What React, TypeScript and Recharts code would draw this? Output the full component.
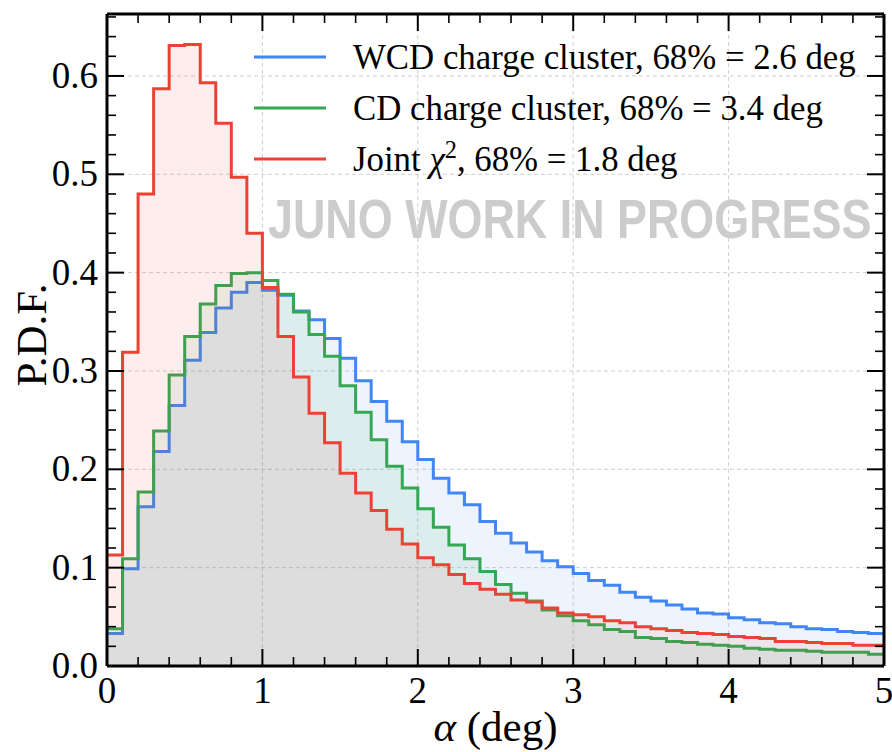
import React from 'react';
import { ComposedChart, Area, XAxis, YAxis, CartesianGrid, Legend, Customized } from 'recharts';

// bin left edges (deg), plus the closing edge at 5.0
const binEdges = [
  0.0, 0.1, 0.2, 0.3, 0.4, 0.5, 0.6, 0.7, 0.8, 0.9,
  1.0, 1.1, 1.2, 1.3, 1.4, 1.5, 1.6, 1.7, 1.8, 1.9,
  2.0, 2.1, 2.2, 2.3, 2.4, 2.5, 2.6, 2.7, 2.8, 2.9,
  3.0, 3.1, 3.2, 3.3, 3.4, 3.5, 3.6, 3.7, 3.8, 3.9,
  4.0, 4.1, 4.2, 4.3, 4.4, 4.5, 4.6, 4.7, 4.8, 4.9, 5.0,
];

const wcdPdf = [
  0.033, 0.099, 0.162, 0.218, 0.265, 0.311, 0.339, 0.364, 0.380, 0.390,
  0.382, 0.377, 0.361, 0.352, 0.333, 0.313, 0.290, 0.269, 0.249, 0.228,
  0.210, 0.191, 0.176, 0.164, 0.147, 0.135, 0.125, 0.116, 0.107, 0.101,
  0.094, 0.087, 0.082, 0.075, 0.070, 0.066, 0.062, 0.058, 0.054, 0.053,
  0.049, 0.047, 0.044, 0.043, 0.040, 0.038, 0.037, 0.035, 0.034, 0.033,
];

const cdPdf = [
  0.038, 0.109, 0.177, 0.239, 0.296, 0.335, 0.368, 0.387, 0.399, 0.400,
  0.392, 0.378, 0.360, 0.337, 0.315, 0.285, 0.258, 0.230, 0.203, 0.181,
  0.160, 0.141, 0.123, 0.109, 0.096, 0.083, 0.074, 0.066, 0.057, 0.051,
  0.046, 0.042, 0.037, 0.035, 0.029, 0.028, 0.025, 0.024, 0.022, 0.021,
  0.020, 0.018, 0.017, 0.016, 0.016, 0.015, 0.014, 0.014, 0.014, 0.012,
];

const jointPdf = [
  0.113, 0.319, 0.480, 0.587, 0.631, 0.632, 0.593, 0.552, 0.497, 0.440,
  0.385, 0.335, 0.294, 0.257, 0.227, 0.196, 0.176, 0.158, 0.139, 0.124,
  0.110, 0.103, 0.093, 0.084, 0.078, 0.073, 0.067, 0.065, 0.059, 0.054,
  0.052, 0.050, 0.046, 0.044, 0.040, 0.038, 0.036, 0.034, 0.033, 0.032,
  0.030, 0.029, 0.028, 0.025, 0.025, 0.024, 0.023, 0.023, 0.021, 0.021,
];

const seriesKeys = ['wcd', 'cd', 'joint'];
const seriesLabels = ['WCD charge cluster', 'CD charge cluster', 'Joint'];
const seriesC68 = ['2.6', '3.4', '1.8'];
const seriesColors = ['#4285F4', '#34A853', '#EA4335'];

const xTicks = [0, 0.2, 0.4, 0.6, 0.8, 1, 1.2, 1.4, 1.6, 1.8, 2, 2.2, 2.4, 2.6, 2.8, 3, 3.2, 3.4, 3.6, 3.8, 4, 4.2, 4.4, 4.6, 4.8, 5];
const yTicks = [0, 0.02, 0.04, 0.06, 0.08, 0.1, 0.12, 0.14, 0.16, 0.18, 0.2, 0.22, 0.24, 0.26, 0.28, 0.3, 0.32, 0.34, 0.36, 0.38, 0.4, 0.42, 0.44, 0.46, 0.48, 0.5, 0.52, 0.54, 0.56, 0.58, 0.6, 0.62, 0.64, 0.66];
const xGrid = [1, 2, 3, 4];
const yGrid = [0.1, 0.2, 0.3, 0.4, 0.5, 0.6];
const yMax = 0.663;

const data = binEdges.map((x, i) => {
  const j = Math.min(i, wcdPdf.length - 1);
  return { x, wcd: wcdPdf[j], cd: cdPdf[j], joint: jointPdf[j] };
});

const SERIF = '"Liberation Serif", "Times New Roman", serif';
const SANS = '"Liberation Sans", Arial, sans-serif';
const MAJOR = 17;
const MINOR = 9;

const isMajorX = (v: number) => Math.abs(v - Math.round(v)) < 1e-6;
const isMajorY = (v: number) => Math.abs(v * 10 - Math.round(v * 10)) < 1e-6;

const BottomTick = (p: any) => {
  const { x, y, payload } = p;
  const v = payload.value;
  const major = isMajorX(v);
  return (
    <g>
      <line x1={x} y1={y} x2={x} y2={y - (major ? MAJOR : MINOR)} stroke="#000" strokeWidth={major ? 2 : 1.6} />
      {major && (
        <text x={x} y={y + 37} textAnchor="middle" fontFamily={SERIF} fontSize={37} fill="#000">
          {Math.round(v)}
        </text>
      )}
    </g>
  );
};

const TopTick = (p: any) => {
  const { x, y, payload } = p;
  const major = isMajorX(payload.value);
  return <line x1={x} y1={y} x2={x} y2={y + (major ? MAJOR : MINOR)} stroke="#000" strokeWidth={major ? 2 : 1.6} />;
};

const LeftTick = (p: any) => {
  const { x, y, payload } = p;
  const v = payload.value;
  const major = isMajorY(v);
  return (
    <g>
      <line x1={x} y1={y} x2={x + (major ? MAJOR : MINOR)} y2={y} stroke="#000" strokeWidth={major ? 2 : 1.6} />
      {major && (
        <text x={x - 9} y={y + 12} textAnchor="end" fontFamily={SERIF} fontSize={37} fill="#000">
          {v.toFixed(1)}
        </text>
      )}
    </g>
  );
};

const RightTick = (p: any) => {
  const { x, y, payload } = p;
  const major = isMajorY(payload.value);
  return <line x1={x} y1={y} x2={x - (major ? MAJOR : MINOR)} y2={y} stroke="#000" strokeWidth={major ? 2 : 1.6} />;
};

const YTitle = (p: any) => {
  const vb = p.viewBox || { x: 0, y: 14, width: 107, height: 652 };
  const cx = vb.x + 46;
  const cy = vb.y + vb.height / 2 - 5;
  return (
    <text x={cx} y={cy} transform={`rotate(-90 ${cx} ${cy})`} textAnchor="middle" fontFamily={SERIF} fontSize={43} fill="#000">
      P.D.F.
    </text>
  );
};

const XTitle = (p: any) => {
  const vb = p.viewBox || { x: 107, y: 666, width: 777, height: 86 };
  const cx = vb.x + vb.width / 2;
  return (
    <text x={cx} y={vb.y + 75} textAnchor="middle" fontFamily={SERIF} fontSize={43} fill="#000">
      <tspan fontStyle="italic">α</tspan>
      <tspan> (deg)</tspan>
    </text>
  );
};

const LegendContent = () => (
  <div>
    {seriesKeys.map((k, i) => (
      <div key={k} style={{ display: 'flex', alignItems: 'center', height: 51 }}>
        <svg width={72} height={6} style={{ display: 'block' }}>
          <line x1={0} y1={3} x2={72} y2={3} stroke={seriesColors[i]} strokeWidth={3} />
        </svg>
        <span style={{ marginLeft: 27, fontFamily: SERIF, fontSize: 34.8, lineHeight: '51px', whiteSpace: 'nowrap', color: '#000' }}>
          {seriesLabels[i]}
          {k === 'joint' && (
            <>
              {' '}
              <i>χ</i>
              <span style={{ fontSize: '0.7em', verticalAlign: '0.55em', lineHeight: 0 }}>2</span>
            </>
          )}
          {`, 68% = ${seriesC68[i]} deg`}
        </span>
      </div>
    ))}
  </div>
);

const WM_SCALE = 0.816;
const Watermark = () => (
  <g transform={`scale(${WM_SCALE} 1)`}>
    <text
      x={268 / WM_SCALE}
      y={238}
      fontFamily={SANS}
      fontWeight="bold"
      fontSize={55}
      fill="#cccccc"
    >
      JUNO WORK IN PROGRESS
    </text>
  </g>
);

export default function App() {
  return (
    <div style={{ position: 'absolute', left: 0, top: 0, width: 892, height: 752, background: '#fff' }}>
      <ComposedChart width={892} height={752} data={data} margin={{ top: 0, right: 0, bottom: 0, left: 0 }}>
        <CartesianGrid
          xAxisId="b"
          yAxisId="l"
          stroke="#cfcfcf"
          strokeWidth={1}
          strokeDasharray="4 3"
          verticalValues={xGrid}
          horizontalValues={yGrid}
        />
        <XAxis
          xAxisId="b"
          dataKey="x"
          type="number"
          orientation="bottom"
          domain={[0, 5]}
          ticks={xTicks}
          interval={0}
          height={86}
          tickSize={0}
          tickMargin={0}
          tickLine={false}
          tick={<BottomTick />}
          axisLine={{ stroke: '#000', strokeWidth: 3 }}
          allowDataOverflow
          label={<XTitle />}
        />
        <XAxis
          xAxisId="t"
          dataKey="x"
          type="number"
          orientation="top"
          domain={[0, 5]}
          ticks={xTicks}
          interval={0}
          height={14}
          tickSize={0}
          tickMargin={0}
          tickLine={false}
          tick={<TopTick />}
          axisLine={{ stroke: '#000', strokeWidth: 3 }}
          allowDataOverflow
        />
        <YAxis
          yAxisId="l"
          type="number"
          orientation="left"
          domain={[0, yMax]}
          ticks={yTicks}
          interval={0}
          width={107}
          tickSize={0}
          tickMargin={0}
          tickLine={false}
          tick={<LeftTick />}
          axisLine={{ stroke: '#000', strokeWidth: 3 }}
          allowDataOverflow
          label={<YTitle />}
        />
        <YAxis
          yAxisId="r"
          type="number"
          orientation="right"
          domain={[0, yMax]}
          ticks={yTicks}
          interval={0}
          width={8}
          tickSize={0}
          tickMargin={0}
          tickLine={false}
          tick={<RightTick />}
          axisLine={{ stroke: '#000', strokeWidth: 3 }}
          allowDataOverflow
        />
        {seriesKeys.map((k, i) => (
          <Area
            key={k}
            xAxisId="b"
            yAxisId="l"
            type="stepAfter"
            dataKey={k}
            name={seriesLabels[i]}
            stroke={seriesColors[i]}
            strokeWidth={3}
            fill={seriesColors[i]}
            fillOpacity={0.09}
            dot={false}
            activeDot={false}
            isAnimationActive={false}
          />
        ))}
        <Customized component={<Watermark />} />
        <Legend
          layout="vertical"
          verticalAlign="middle"
          align="center"
          wrapperStyle={{ position: 'absolute', left: 254, top: 31.5, width: 640, height: 160 }}
          content={<LegendContent />}
        />
      </ComposedChart>
    </div>
  );
}
